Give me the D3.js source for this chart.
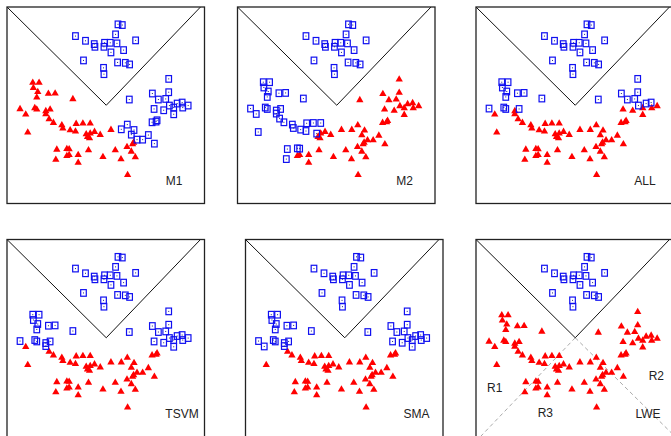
<!DOCTYPE html>
<html>
<head>
<meta charset="utf-8">
<script src="https://cdn.jsdelivr.net/npm/d3@7"></script>
<style>
  body { margin: 0; background: #fff; }
  svg { display: block; }
  .frame { fill: none; stroke: #222; stroke-width: 1.3; }
  .vline { fill: none; stroke: #111; stroke-width: 1; }
  .ext { fill: none; stroke: #aaa; stroke-width: 1; stroke-dasharray: 4,3; }
  .lbl { font-family: "Liberation Sans Narrow", "Arial Narrow", "Liberation Sans", sans-serif; font-size: 12px; fill: #222; }
</style>
</head>
<body>
<svg id="chart" width="671" height="436"></svg>
<script>
// point positions (same in every panel), x to the right, y upward
var topPts = [[110.7,178.7],[115,178],[68.3,167],[78.3,162.3],[87,159],[87.7,156.3],[97.3,160.3],[96.7,156.3],
  [103,160.3],[103.7,150.7],[108.3,168.7],[109.7,159.7],[116.3,153],[128.3,162.7],[76.3,142.7],[110.3,140.7],
  [118,140.3],[122.3,138.7],[96.3,135.3],[96.7,129]];
var leftPts = [[25.7,121],[32,121],[26.3,115.7],[30.7,111.7],[29.7,106.3],[41.3,110],[48,110.3],[65.7,104.7],
  [13,94.7],[18.7,89.3],[27.7,95.7],[29.7,94.3],[38.7,92.7],[43,94.3],[38.7,89.7],[42,84.7],[46.3,81],[20.7,71.3]];
var bottomPts = [[54.7,78.7],[55.7,75.3],[63,73.7],[69,80],[75.7,80.3],[83,80.3],[68.3,72.3],[79,69.7],
  [83,70.3],[80.3,67],[82.3,65.7],[87.3,72],[93,69],[103.7,74],[49.7,54.3],[48.7,44.3],[59.7,55],[62,54.7],
  [59.7,48],[62,49],[71,49],[71,41.3],[81.3,53.7],[95.7,47],[108,53.7],[113.7,44.7],[119.7,57],[125.3,59.7],
  [126.3,61.3],[124,52.3],[128,46.7],[120.3,29]];
var rightPts = [[161.3,124.3],[145,109.7],[161.3,111],[151,103.7],[158.3,104.3],[122,103.7],[146.7,94.3],[156.3,93],
  [162,97.7],[166.3,95.7],[174.7,100.7],[175.3,95.7],[180.7,97.7],[166.3,89],[144.7,81],[148.7,81.7],[149.7,83],
  [120,78.7],[114,74],[126.7,73.3],[124,68.7],[129.7,63.7],[135.3,63.7],[141,68.3],[147,59.7],[169.7,99.7]];

// the V boundary and its extension below the vertex
var vLine = [[0,196],[99,98],[193,196]];
var vExt = [[[99,98],[198,0]],[[99,98],[5,0]]];

var panelNames = ["M1", "M2", "ALL", "TSVM", "SMA", "LWE"];
var regionNames = ["R1", "R2", "R3"];

function ids(p, a, b) { return d3.range(a, b + 1).map(function(i) { return p + i; }); }

// points drawn as blue squares in each panel, the rest are red triangles
var blueM1 = ids("T",1,20).concat(ids("R",1,26));
var blueM2 = ids("T",1,20).concat(ids("L",1,18), ids("B",1,8), ids("B",15,18));
var blueALL = ids("T",1,20).concat(ids("L",1,9), ["L11","L12","L14"], ids("R",1,6), ["R9","R11","R26"]);
var blueTSVM = ids("T",1,20).concat(ids("L",1,9), ids("L",11,15), ids("R",1,14), ["R26"]);
var blueSMA = ids("T",1,20).concat(ids("L",1,15), ids("R",1,14), ["R26"]);
var blueLWE = ids("T",1,20);
var blueSets = [blueM1, blueM2, blueALL, blueTSVM, blueSMA, blueLWE];

var points = [];
[["T", topPts], ["L", leftPts], ["B", bottomPts], ["R", rightPts]].forEach(function(g) {
  g[1].forEach(function(p, i) { points.push({id: g[0] + (i + 1), x: p[0], y: p[1]}); });
});

var W = 197.5, H = 196.5;
var layout = [
  {x: 7, y: 7, h: H, lx: 167},
  {x: 237.5, y: 7, h: H, lx: 167},
  {x: 476, y: 7, h: H, lx: 169},
  {x: 7, y: 239.5, h: H + 10, lx: 175},
  {x: 245.5, y: 239.5, h: H + 10, lx: 171},
  {x: 476, y: 239.5, h: H + 10, lx: 172}
];
var regionPos = [[18.7, 152.7], [180.3, 140.3], [69.3, 177.7]];

var svg = d3.select("#chart");

var x = d3.scaleLinear().domain([0, 197]).range([0, W]);
var y = d3.scaleLinear().domain([0, 196]).range([H, 0]);
var line = d3.line().x(function(d) { return x(d[0]); }).y(function(d) { return y(d[1]); });
var tri = d3.symbol().type(d3.symbolTriangle).size(23);

panelNames.forEach(function(name, k) {
  var L = layout[k];
  var g = svg.append("g").attr("transform", "translate(" + L.x + "," + L.y + ")");

  svg.append("clipPath").attr("id", "clip" + k)
    .append("rect").attr("width", W).attr("height", L.h);

  var inner = g.append("g").attr("clip-path", "url(#clip" + k + ")");

  if (name == "LWE") {
    inner.selectAll(".ext").data(vExt).enter().append("path")
      .attr("class", "ext").attr("d", line);
  }
  inner.append("path").attr("class", "vline").attr("d", line(vLine));

  var blue = new Set(blueSets[k]);
  var reds = points.filter(function(d) { return !blue.has(d.id); });
  var blues = points.filter(function(d) { return blue.has(d.id); });

  inner.selectAll(".tri").data(reds).enter().append("path")
    .attr("class", "tri")
    .attr("d", tri)
    .attr("fill", "#ff0000")
    .attr("transform", function(d) { return "translate(" + x(d.x) + "," + (y(d.y) + 0.5) + ")"; });

  var sq = inner.selectAll(".sq").data(blues).enter().append("g")
    .attr("class", "sq")
    .attr("transform", function(d) { return "translate(" + x(d.x) + "," + y(d.y) + ")"; });
  sq.append("rect")
    .attr("x", -2.8).attr("y", -3.3).attr("width", 5.6).attr("height", 6.6)
    .attr("fill", "none").attr("stroke", "#1010f0").attr("stroke-width", 1.2);
  sq.append("rect")
    .attr("x", -0.5).attr("y", -0.5).attr("width", 1).attr("height", 1)
    .attr("fill", "#202080");

  g.append("rect").attr("class", "frame").attr("width", W).attr("height", L.h);

  g.append("text").attr("class", "lbl")
    .attr("x", L.lx).attr("y", 178)
    .attr("text-anchor", "middle")
    .text(name);

  if (name == "LWE") {
    g.selectAll(".rg").data(regionNames).enter().append("text")
      .attr("class", "lbl")
      .attr("x", function(d, i) { return regionPos[i][0]; })
      .attr("y", function(d, i) { return regionPos[i][1]; })
      .attr("text-anchor", "middle")
      .text(function(d) { return d; });
  }
});
</script>
</body>
</html>
